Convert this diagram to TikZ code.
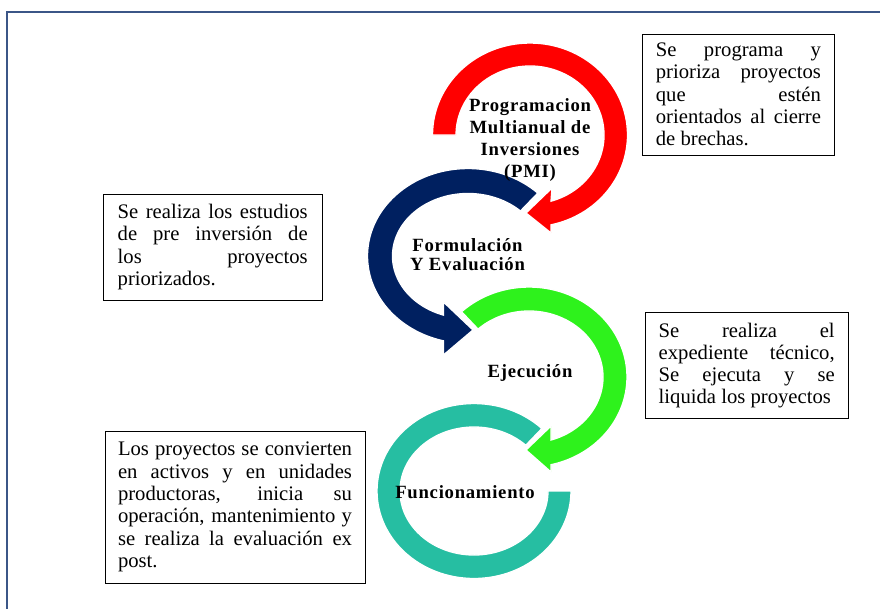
\documentclass[tikz,border=0pt]{standalone}
\usepackage{fontspec}
\setmainfont{Liberation Serif}
\newfontfamily\stagefont{Liberation Serif}[LetterSpace=4]
\usetikzlibrary{calc}
\definecolor{framecol}{RGB}{59,86,135}
\definecolor{redPMI}{RGB}{255,0,0}
\definecolor{navyForm}{RGB}{0,32,96}
\definecolor{greenEjec}{RGB}{46,242,28}
\definecolor{tealFunc}{RGB}{38,190,162}
\tikzset{
  stagearrow/.style={fill=#1, draw=white, line width=1pt},
  stagelabel/.style={font=\stagefont\bfseries\fontsize{14}{16.3}\selectfont, align=center, inner sep=0pt},
  infobox/.style={draw=black, line width=0.6pt, align=justify, inner ysep=0pt, font=\fontsize{15.5}{16.7}\selectfont}
}
\begin{document}
\begin{tikzpicture}[x=0.75pt,y=-0.75pt]
    \clip (0,0) rectangle (880,608);
    \draw[framecol, line width=1.5pt] (7,12) rectangle (900,630);
    % centres of the four circular arrows
    \coordinate (cPMI) at (530,135);
    \coordinate (cForm) at (468,256);
    \coordinate (cEjec) at (529,377);
    \coordinate (cFunc) at (474,491);
    \filldraw[stagearrow=redPMI] ($(cPMI)+(180:97.5 and 92)$) arc[start angle=180, end angle=437.6, x radius=97.5, y radius=92]
        -- (551,233) -- (526,213) -- (552,188) -- ($(cPMI)+(433.5:74 and 69)$) arc[start angle=433.5, end angle=180, x radius=74, y radius=69] -- cycle;
    \filldraw[stagearrow=navyForm] ($(cForm)+(-46:100.5 and 87.5)$) arc[start angle=-46, end angle=-255.9, x radius=100.5, y radius=87.5]
        -- (443.5,355) -- (473,330) -- (443.5,302) -- ($(cForm)+(-251.1:75.5 and 62.5)$) arc[start angle=-251.1, end angle=-46, x radius=75.5, y radius=62.5] -- cycle;
    \filldraw[stagearrow=greenEjec] ($(cEjec)+(226.5:98 and 90)$) arc[start angle=226.5, end angle=437, x radius=98, y radius=90]
        -- (551,472) -- (526,450) -- (551,426) -- ($(cEjec)+(432.7:74 and 66)$) arc[start angle=432.7, end angle=226.5, x radius=74, y radius=66] -- cycle;
    \filldraw[stagearrow=tealFunc] ($(cFunc)+(0:97 and 87.5)$) arc[start angle=0, end angle=314.4, x radius=97, y radius=87.5]
        -- ($(cFunc)+(314.4:74 and 64)$) arc[start angle=314.4, end angle=0, x radius=74, y radius=64] -- cycle;
    % stage names
    \node[stagelabel] (lblPMI) at (530,140) {Programacion\\Multianual de\\Inversiones\\(PMI)};
    \node[stagelabel, font=\stagefont\bfseries\fontsize{14}{14.3}\selectfont] (lblForm) at (467.5,255) {Formulación\\Y Evaluación};
    \node[stagelabel] (lblEjec) at (530,373) {Ejecución};
    \node[stagelabel] (lblFunc) at (465,492) {Funcionamiento};
    % descriptions
    \node[infobox, text width=123.75pt, inner xsep=9.9pt, minimum height=90.75pt] (boxPMI) at (738.4,94.5)
        {Se programa y\linebreak prioriza proyectos\linebreak que estén\linebreak orientados al cierre\linebreak de brechas.};
    \node[infobox, text width=142.5pt, inner xsep=10.8pt, minimum height=79.5pt] (boxForm) at (212.7,247)
        {Se realiza los estudios\linebreak de pre inversión de\linebreak los proyectos\linebreak priorizados.};
    \node[infobox, text width=132pt, inner xsep=10.2pt, minimum height=79.2pt] (boxEjec) at (746.7,365.5)
        {Se realiza el\linebreak expediente técnico,\linebreak Se ejecuta y se\linebreak liquida los proyectos};
    \node[infobox, text width=175.5pt, inner xsep=9.75pt, minimum height=114pt] (boxFunc) at (235,507)
        {Los proyectos se convierten\linebreak en activos y en unidades\linebreak productoras, inicia su\linebreak operación, mantenimiento y\linebreak se realiza la evaluación ex\linebreak post.};
\end{tikzpicture}
\end{document}
